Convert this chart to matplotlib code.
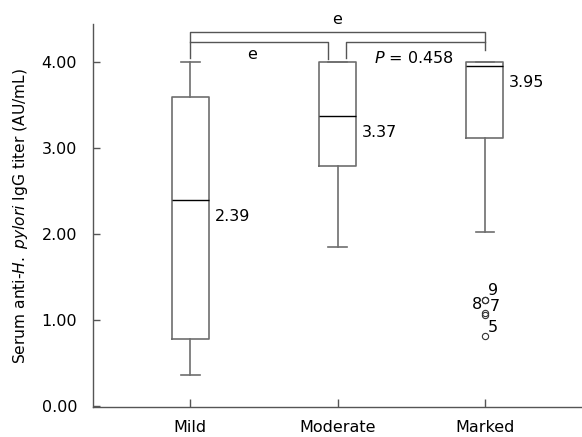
import matplotlib
matplotlib.use("Agg")
import matplotlib.pyplot as plt

# ======================================
# Data
# ======================================

groups = ["Mild", "Moderate", "Marked"]
medians = [2.39, 3.37, 3.95]
q1 = [0.78, 2.79, 3.12]
q3 = [3.59, 4.00, 4.00]
whisker_low = [0.36, 1.85, 2.02]
whisker_high = [4.00, 4.00, 4.00]

# outliers of the Marked group and their case numbers
outlier_values = [1.23, 1.23, 1.08, 1.06, 0.82]
outlier_cases = ["9", "8", "7", "", "5"]

y_ticks = [0.0, 1.0, 2.0, 3.0, 4.0]

# ======================================
# Figure
# ======================================

fig = plt.figure(figsize=(5.82, 4.37), dpi=100)
ax = fig.add_axes([0.16, 0.0686, 0.84, 0.8764])

positions = [1, 2, 3]
stats = []
for i in range(len(groups)):
    stats.append({
        "med": medians[i],
        "q1": q1[i],
        "q3": q3[i],
        "whislo": whisker_low[i],
        "whishi": whisker_high[i],
        "fliers": outlier_values if groups[i] == "Marked" else [],
    })

box_col = "#6e6e6e"
ax.bxp(
    stats,
    positions=positions,
    widths=0.25,
    showfliers=True,
    boxprops=dict(color=box_col, linewidth=1.2),
    whiskerprops=dict(color=box_col, linewidth=1.2),
    capprops=dict(color=box_col, linewidth=1.2),
    medianprops=dict(color="black", linewidth=1.0),
    flierprops=dict(marker="o", markersize=4.5, markerfacecolor="none",
                    markeredgecolor="#333333", markeredgewidth=0.8),
)

# median labels
for p, m in zip(positions, medians):
    ax.annotate(f"{m:.2f}", xy=(p + 0.125, m), xytext=(6, -16),
                textcoords="offset pixels", ha="left", va="center",
                fontsize=11.5)

# outlier case numbers
case_offsets = [(8, 10), (-8, -4), (10, 7), (0, 0), (8, 8)]
marked_pos = positions[groups.index("Marked")]
for v, c, off in zip(outlier_values, outlier_cases, case_offsets):
    if c:
        ax.annotate(c, xy=(marked_pos, v), xytext=off,
                    textcoords="offset pixels", ha="center", va="center",
                    fontsize=11.5)

# ======================================
# Significance brackets
# ======================================

line_col = "#555555"
lw = 1.0
# Mild vs Marked
ax.plot([1, 1, 3, 3], [4.05, 4.35, 4.35, 4.14], color=line_col, lw=lw,
        clip_on=False)
# Mild vs Moderate
ax.plot([1, 1.932, 1.932], [4.23, 4.23, 4.03], color=line_col, lw=lw,
        clip_on=False)
# Moderate vs Marked
ax.plot([2.06, 2.06, 3], [4.05, 4.23, 4.23], color=line_col, lw=lw,
        clip_on=False)

ax.text(2.0, 4.49, "e", ha="center", va="center", fontsize=11.5,
        clip_on=False)
ax.text(1.42, 4.09, "e", ha="center", va="center", fontsize=11.5)
ax.text(2.52, 4.05, r"$\mathit{P}$ = 0.458", ha="center", va="center",
        fontsize=11.5)

# ======================================
# Axes styling
# ======================================

ax.set_xlim(0.34, 3.66)
ax.set_ylim(-0.01, 4.44)
ax.set_xticks(positions)
ax.set_xticklabels(groups)
ax.set_yticks(y_ticks)
ax.set_yticklabels([f"{t:.2f}" for t in y_ticks])

ax.spines["top"].set_visible(False)
ax.spines["right"].set_visible(False)
for s in ["left", "bottom"]:
    ax.spines[s].set_color("#555555")
    ax.spines[s].set_linewidth(1.0)

ax.tick_params(axis="y", direction="in", length=5, width=1.0,
               color="#555555", pad=11.5, labelsize=11.5)
ax.tick_params(axis="x", direction="in", length=6, width=1.0,
               color="#555555", pad=9, labelsize=11.5)

ax.set_ylabel(r"Serum anti-$\mathit{H.}$ $\mathit{pylori}$ IgG titer (AU/mL)",
              fontsize=11.2, labelpad=8)

plt.savefig("out.png", dpi=100)
